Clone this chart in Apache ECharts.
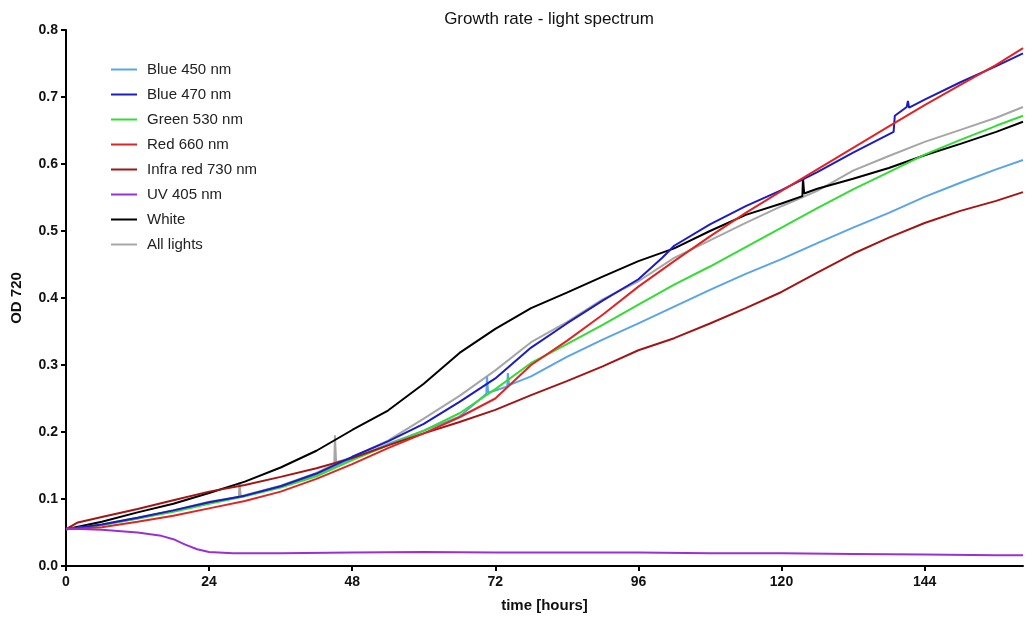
<!DOCTYPE html>
<html>
<head>
<meta charset="utf-8">
<script src="https://cdn.jsdelivr.net/npm/echarts@6/dist/echarts.min.js"></script>
<style>
html,body{margin:0;padding:0;background:#fff;}
#chart{width:1026px;height:620px;}
</style>
</head>
<body>
<div id="chart"></div>
<script>
// ---- data (time [h], OD 720) ----
var seriesNames = ["Blue 450 nm","Blue 470 nm","Green 530 nm","Red 660 nm","Infra red 730 nm","UV 405 nm","White","All lights"];
var xTicks = [0,24,48,72,96,120,144];
var yTicks = [0,0.1,0.2,0.3,0.4,0.5,0.6,0.7,0.8];

var blue450 = [[0,0.055],[6,0.061],[12,0.071],[18,0.082],[24,0.094],[30,0.105],[36,0.119],[42,0.136],[48,0.160],[54,0.182],[60,0.202],[66,0.223],[70.5,0.257],[70.6,0.283],[70.8,0.259],[72,0.262],[74,0.268],[74.1,0.288],[74.3,0.270],[78,0.283],[84,0.312],[90,0.338],[96,0.362],[102,0.387],[108,0.412],[114,0.436],[120,0.458],[126,0.482],[132,0.505],[138,0.527],[144,0.551],[150,0.572],[156,0.592],[160.5,0.606]];
var blue470 = [[0,0.055],[6,0.062],[12,0.072],[18,0.083],[24,0.095],[30,0.105],[36,0.119],[42,0.138],[48,0.163],[54,0.186],[60,0.212],[66,0.245],[72,0.280],[78,0.326],[84,0.362],[90,0.396],[96,0.428],[100,0.460],[102,0.478],[108,0.510],[114,0.537],[120,0.561],[126,0.588],[132,0.617],[138.8,0.648],[139,0.672],[141,0.685],[141.2,0.694],[141.4,0.684],[144,0.696],[150,0.722],[156,0.746],[160.5,0.765]];
var green530 = [[0,0.055],[6,0.061],[12,0.071],[18,0.081],[24,0.093],[30,0.104],[36,0.117],[42,0.134],[48,0.158],[54,0.180],[60,0.202],[66,0.228],[72,0.264],[78,0.303],[84,0.331],[90,0.360],[96,0.390],[102,0.420],[108,0.447],[114,0.476],[120,0.505],[126,0.534],[132,0.562],[138,0.588],[144,0.614],[150,0.636],[156,0.657],[160.5,0.672]];
var red660 = [[0,0.055],[6,0.058],[12,0.066],[18,0.075],[24,0.086],[30,0.097],[36,0.111],[42,0.130],[48,0.152],[54,0.176],[60,0.198],[66,0.222],[72,0.250],[78,0.300],[84,0.336],[90,0.375],[96,0.417],[102,0.455],[108,0.492],[114,0.527],[120,0.560],[126,0.592],[132,0.624],[138,0.656],[144,0.688],[150,0.718],[156,0.748],[160.5,0.773]];
var infra730 = [[0,0.055],[2,0.065],[6,0.073],[12,0.085],[18,0.098],[24,0.111],[30,0.121],[36,0.133],[42,0.146],[48,0.161],[54,0.180],[60,0.198],[66,0.215],[72,0.233],[78,0.255],[84,0.276],[90,0.298],[96,0.322],[102,0.340],[108,0.362],[114,0.385],[120,0.409],[126,0.438],[132,0.466],[138,0.490],[144,0.512],[150,0.530],[156,0.545],[160.5,0.558]];
var uv405 = [[0,0.056],[6,0.054],[12,0.050],[16,0.045],[18,0.040],[20,0.032],[22,0.025],[24,0.021],[28,0.019],[36,0.019],[48,0.020],[60,0.021],[72,0.020],[84,0.020],[96,0.020],[108,0.019],[120,0.019],[132,0.018],[144,0.017],[156,0.016],[160.5,0.016]];
var white = [[0,0.055],[6,0.066],[12,0.080],[18,0.093],[24,0.109],[30,0.126],[36,0.147],[42,0.172],[48,0.203],[54,0.232],[60,0.272],[66,0.318],[72,0.354],[78,0.385],[84,0.408],[90,0.432],[96,0.455],[102,0.474],[108,0.500],[114,0.524],[120,0.541],[123.5,0.552],[123.6,0.579],[123.8,0.556],[126,0.563],[132,0.578],[138,0.594],[144,0.613],[150,0.630],[156,0.648],[160.5,0.663]];
var allLights = [[0,0.055],[6,0.062],[12,0.072],[18,0.083],[24,0.096],[29,0.103],[29.1,0.125],[29.3,0.104],[36,0.120],[42,0.139],[45,0.152],[45.1,0.195],[45.3,0.155],[48,0.162],[54,0.187],[60,0.220],[66,0.254],[72,0.292],[78,0.334],[84,0.364],[90,0.398],[96,0.425],[102,0.460],[108,0.486],[114,0.512],[120,0.537],[126,0.560],[132,0.590],[138,0.612],[144,0.633],[150,0.651],[156,0.669],[160.5,0.685]];

var seriesData = [blue450, blue470, green530, red660, infra730, uv405, white, allLights];
var colors = ["#5aa5e5","#1c1cbf","#33dd33","#e02424","#a31515","#9b30d0","#000000","#a6a6a6"];
var drawOrder = [7,6,0,2,4,1,3,5];

var FONT = '"Liberation Sans", Arial, sans-serif';
var chart = echarts.init(document.getElementById('chart'), null, {renderer:'canvas'});

var series = [];
for (var k = 0; k < seriesData.length; k++) {
  var i = k;
  series.push({
    name: seriesNames[i],
    type: 'line',
    data: seriesData[i],
    showSymbol: false,
    symbol: 'none',
    smooth: false,
    z: 2 + drawOrder.indexOf(i),
    lineStyle: {width: 2, color: colors[i]},
    itemStyle: {color: colors[i]},
    animation: false
  });
}

chart.setOption({
  animation: false,
  backgroundColor: '#ffffff',
  textStyle: {fontFamily: FONT},
  title: {
    text: 'Growth rate - light spectrum',
    left: 544, textAlign: 'center', top: 6,
    textStyle: {fontFamily: FONT, fontSize: 17, fontWeight: 'normal', color: '#111'}
  },
  legend: {
    orient: 'vertical',
    left: 106, top: 56,
    itemWidth: 26, itemHeight: 2,
    itemGap: 8,
    icon: 'rect',
    textStyle: {fontFamily: FONT, fontSize: 15, color: '#222', padding: [0,0,0,5], lineHeight: 17},
    data: seriesNames
  },
  grid: {left: 66, right: 3, top: 30, bottom: 54, containLabel: false},
  xAxis: {
    type: 'value', min: 0, max: 160.5, interval: 24,
    name: 'time [hours]', nameLocation: 'middle', nameGap: 32,
    nameTextStyle: {fontFamily: FONT, fontSize: 15, fontWeight: 'bold', color: '#111'},
    axisLine: {show: true, onZero: false, lineStyle: {color: '#000', width: 2}},
    axisTick: {show: true, length: 5, lineStyle: {color: '#000', width: 2}, customValues: xTicks},
    axisLabel: {fontFamily: FONT, fontSize: 14, fontWeight: 'bold', color: '#111', margin: 9, customValues: xTicks},
    splitLine: {show: false}
  },
  yAxis: {
    type: 'value', min: 0, max: 0.8, interval: 0.1,
    name: 'OD 720', nameLocation: 'middle', nameGap: 42, nameRotate: 90,
    nameTextStyle: {fontFamily: FONT, fontSize: 15, fontWeight: 'bold', color: '#111'},
    axisLine: {show: true, lineStyle: {color: '#000', width: 2}},
    axisTick: {show: true, length: 5, lineStyle: {color: '#000', width: 2}},
    axisLabel: {fontFamily: FONT, fontSize: 14, fontWeight: 'bold', color: '#111', margin: 8,
      formatter: function(v){ return v.toFixed(1); }},
    splitLine: {show: false}
  },
  series: series
});
</script>
</body>
</html>
